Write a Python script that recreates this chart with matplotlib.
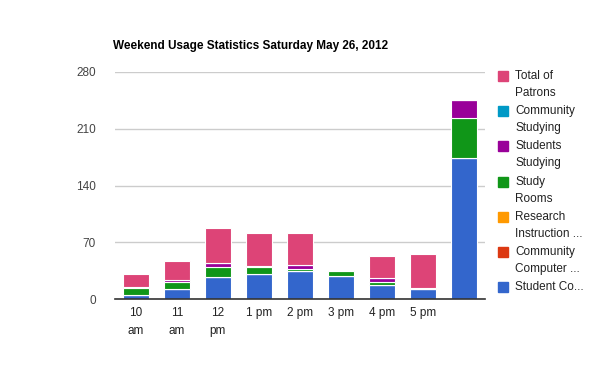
import matplotlib
matplotlib.use("Agg")
import matplotlib.pyplot as plt
from matplotlib.patches import Rectangle
import numpy as np

plt.rcParams['font.family'] = ['Liberation Sans', 'DejaVu Sans']

# time slots on the x axis
hours = ['10\nam', '11\nam', '12\npm', '1 pm', '2 pm', '3 pm', '4 pm', '5 pm', '']

# series, bottom to top of each stack
student_computers = [5, 12, 27, 31, 34, 29, 17, 12, 174]
community_computers = [0, 0, 0, 0, 0, 0, 0, 0, 0]
research_instruction = [0, 0, 0, 0, 0, 0, 0, 0, 0]
study_rooms = [9, 9, 13, 9, 3, 5, 4, 1, 49]
students_studying = [1, 3, 4, 1, 5, 2, 5, 0, 22]
community_studying = [0, 0, 0, 0, 0, 0, 0, 0, 0]
total_patrons = [16, 23, 43, 41, 40, 0, 27, 42, 0]

series = [
    ('Student Co...', student_computers, '#3366cc'),
    ('Community\nComputer ...', community_computers, '#dc3912'),
    ('Research\nInstruction ...', research_instruction, '#ff9900'),
    ('Study\nRooms', study_rooms, '#109618'),
    ('Students\nStudying', students_studying, '#990099'),
    ('Community\nStudying', community_studying, '#0099c6'),
    ('Total of\nPatrons', total_patrons, '#dd4477'),
]

fig = plt.figure(figsize=(6, 3.71), dpi=100)
ax = fig.add_axes([0.192, 0.194, 0.616, 0.612])

x = np.arange(len(hours))
bottom = np.zeros(len(hours))
for name, vals, col in series:
    vals = np.array(vals, dtype=float)
    ax.bar(x, vals, 0.63, bottom=bottom, color=col, edgecolor='white',
           linewidth=0.8, zorder=3)
    bottom += vals

ax.set_xlim(-0.5, 8.5)
ax.set_ylim(0, 280)
ax.set_yticks([0, 70, 140, 210, 280])
ax.set_xticks(x)
ax.set_xticklabels(hours, fontsize=8.5, color='#222222', linespacing=1.6)
ax.tick_params(axis='y', labelsize=8.5, labelcolor='#444444', length=0, pad=14)
ax.tick_params(axis='x', length=0, pad=6)
ax.grid(axis='y', color='#cccccc', linewidth=1, zorder=0)
for s in ['top', 'right', 'left']:
    ax.spines[s].set_visible(False)
ax.spines['bottom'].set_color('#333333')
ax.spines['bottom'].set_linewidth(1.2)
ax.spines['bottom'].set_zorder(4)

fig.text(113 / 600, 1 - 46 / 371, 'Weekend Usage Statistics Saturday May 26, 2012',
         fontsize=8.5, fontweight='bold', va='center', ha='left', color='black')

# legend, top item first
W, H = 600, 371
for i, (name, vals, col) in enumerate(reversed(series)):
    yc = 76 + i * 35.2
    fig.patches.append(Rectangle((498 / W, 1 - (yc + 5) / H), 10 / W, 10 / H,
                                 transform=fig.transFigure, color=col))
    fig.text(515 / W, 1 - (yc - 6) / H, name, fontsize=8.5, color='#222222',
             va='top', ha='left', linespacing=1.55)

fig.savefig('out.png', dpi=100)
